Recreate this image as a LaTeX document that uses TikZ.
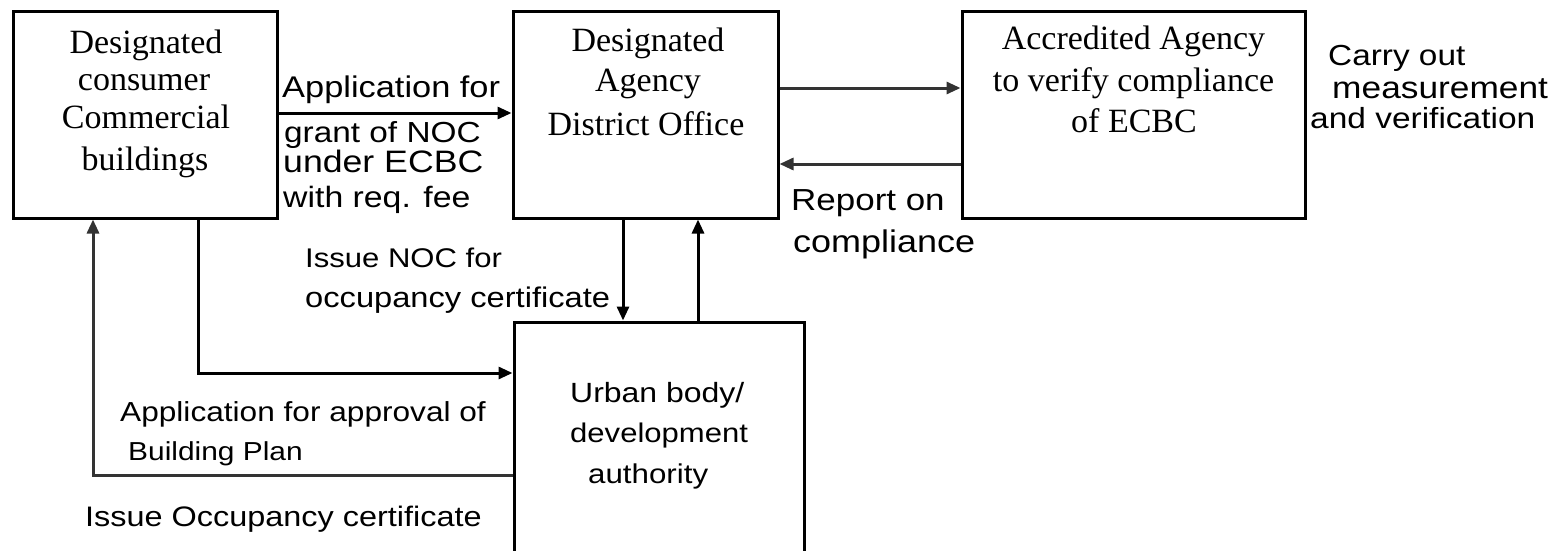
\documentclass[tikz,border=0pt]{standalone}
\usepackage{fontspec}
\setmainfont{Liberation Serif}
\setsansfont{Liberation Sans}
\newfontfamily\widesans[FakeStretch=1.15]{Liberation Sans}
\usetikzlibrary{arrows.meta}
\newcommand\fsz[1]{\fontsize{#1}{#1}\selectfont}
\tikzset{
  box/.style={draw, line width=3pt, inner sep=0pt, fill=none},
  btxt/.style={anchor=base, inner sep=0pt, font=\rmfamily\fsz{34}},
  lbl/.style={anchor=base west, inner sep=0pt},
  arr/.style={line width=3pt, -{Triangle[length=14pt,width=12pt]}},
  garr/.style={arr, draw=black!80, color=black!80},
}
\begin{document}
\begin{tikzpicture}[x=1pt,y=-1pt]
\useasboundingbox (0,0) rectangle (1563,551);
% boxes
\node[box, minimum width=264pt, minimum height=206pt] (b1) at (145,115) {};
\node[box, minimum width=265pt, minimum height=206pt] (b2) at (645.5,115) {};
\node[box, minimum width=343pt, minimum height=206pt] (b3) at (1133.5,115) {};
\node[box, minimum width=290pt, minimum height=258pt] (b4) at (659,451) {};
% box texts
\node[btxt] (t1a) at (146,53) {Designated};
\node[btxt] (t1b) at (144,90) {consumer};
\node[btxt] (t1c) at (146,128) {Commercial};
\node[btxt] (t1d) at (145,170) {buildings};
\node[btxt] (t2a) at (648,52) {Designated};
\node[btxt] (t2b) at (648,92) {Agency};
\node[btxt] (t2c) at (646,135) {District Office};
\node[btxt] (t3a) at (1133.5,50) {Accredited Agency};
\node[btxt] (t3b) at (1133.5,92) {to verify compliance};
\node[btxt] (t3c) at (1134,132) {of ECBC};
\node[lbl, font=\widesans\fsz{27.8}] (t4a) at (570,402) {Urban body/};
\node[lbl, font=\widesans\fsz{27}] (t4b) at (570,442) {development};
\node[lbl, font=\widesans\fsz{27.2}] (t4c) at (588,483) {authority};
% labels
\node[lbl, font=\widesans\fsz{29.9}] (l1a) at (282,97) {Application for};
\node[lbl, font=\widesans\fsz{29}] (l1b) at (284,142) {grant of NOC};
\node[lbl, font=\widesans\fsz{31}] (l1c) at (283,172) {under ECBC};
\node[lbl, font=\widesans\fsz{29.4}] (l1d) at (283,207) {with req. fee};
\node[lbl, font=\widesans\fsz{30.4}] (l2a) at (791,210) {Report on};
\node[lbl, font=\widesans\fsz{31.3}] (l2b) at (793,252) {compliance};
\node[lbl, font=\widesans\fsz{29}] (l3a) at (1328,66) {Carry out};
\node[lbl, font=\widesans\fsz{30.7}] (l3b) at (1332,98) {measurement};
\node[lbl, font=\widesans\fsz{29.1}] (l3c) at (1310,128) {and verification};
\node[lbl, font=\widesans\fsz{27}] (l4a) at (305,267) {Issue NOC for};
\node[lbl, font=\widesans\fsz{28.4}] (l4b) at (305,307) {occupancy certificate};
\node[lbl, font=\widesans\fsz{27.5}] (l5a) at (120,421) {Application for approval of};
\node[lbl, font=\widesans\fsz{26}] (l5b) at (128,460) {Building Plan};
\node[lbl, font=\widesans\fsz{28.2}] (l6) at (85,526) {Issue Occupancy certificate};
% connectors
\draw[arr] (b1.east |- 0,113) -- (b2.west |- 0,113);
\draw[garr] (b2.east |- 0,88) -- (b3.west |- 0,88);
\draw[garr] (b3.west |- 0,164) -- (b2.east |- 0,164);
\draw[arr] (b2.south -| 623,0) -- (b4.north -| 623,0);
\draw[arr] (b4.north -| 698,0) -- (b2.south -| 698,0);
\draw[arr] (b1.south -| 198,0) |- (b4.west |- 0,373);
\draw[garr] (b4.west |- 0,475) -| (b1.south -| 93,0);
\end{tikzpicture}
\end{document}
